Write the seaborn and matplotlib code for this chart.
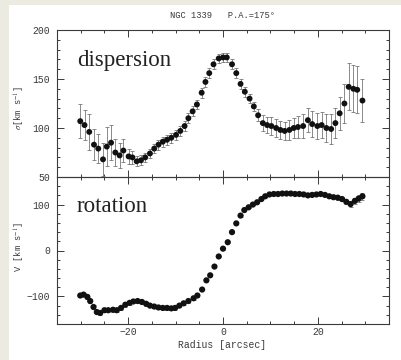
import matplotlib
matplotlib.use("Agg")
import matplotlib.pyplot as plt
from matplotlib.patches import Rectangle
from matplotlib.ticker import MultipleLocator
import pandas as pd
import seaborn as sns

# dispersion profile (arcsec, km/s)
disp_radius = [-30.1, -29.2, -28.2, -27.2, -26.3, -25.3, -24.5, -23.6, -22.7, -21.8,
               -21.0, -19.9, -19.1, -18.2, -17.3, -16.4, -15.4, -14.5, -13.6, -12.7,
               -11.8, -10.9, -9.9, -9.0, -8.1, -7.3, -6.4, -5.5, -4.5, -3.7,
               -2.9, -2.0, -0.9, 0.0, 0.8, 1.9, 2.8, 3.7, 4.6, 5.6,
               6.5, 7.4, 8.4, 9.3, 10.2, 11.2, 12.1, 13.0, 14.0, 14.9,
               15.8, 16.9, 17.9, 18.8, 19.9, 20.8, 21.8, 22.8, 23.7, 24.6,
               25.6, 26.5, 27.5, 28.3, 29.4]
disp_sigma = [107, 103, 96, 83, 79, 68, 81, 85, 75, 72,
              77, 71, 70, 66, 67, 70, 74, 79, 83, 86,
              88, 90, 93, 97, 102, 110, 117, 124, 136, 147,
              156, 165, 171, 172, 172, 165, 156, 145, 137, 130,
              122, 113, 105, 103, 102, 100, 98, 97, 98, 100,
              101, 102, 108, 104, 102, 103, 100, 99, 105, 115,
              125, 142, 140, 139, 128]
disp_err = [17, 15, 18, 16, 15, 17, 20, 18, 14, 13,
            12, 8, 7, 5, 5, 5, 5, 5, 5, 5,
            5, 5, 5, 5, 5, 5, 5, 5, 5, 5,
            5, 5, 5, 5, 5, 5, 5, 5, 5, 5,
            5, 6, 8, 8, 9, 9, 9, 9, 10, 10,
            11, 12, 12, 13, 13, 13, 14, 15, 15, 17,
            20, 24, 24, 24, 22]

# rotation curve (arcsec, km/s)
rot_radius = [-30.1, -29.4, -28.6, -28.0, -27.3, -26.6, -25.9, -25.0, -24.2, -23.2,
              -22.4, -21.5, -20.6, -19.7, -18.9, -18.0, -17.1, -16.2, -15.4, -14.5,
              -13.6, -12.7, -11.8, -10.9, -10.1, -9.2, -8.3, -7.3, -6.2, -5.4,
              -4.4, -3.5, -2.7, -1.8, -0.9, 0.0, 1.0, 1.9, 2.8, 3.7,
              4.5, 5.4, 6.3, 7.2, 8.1, 8.9, 9.8, 10.7, 11.6, 12.5,
              13.4, 14.3, 15.2, 16.1, 17.0, 17.9, 18.8, 19.7, 20.6, 21.5,
              22.4, 23.3, 24.2, 25.1, 26.0, 26.9, 27.8, 28.6, 29.4]
rot_vel = [-98, -96, -101, -110, -123, -134, -136, -130, -130, -129,
           -130, -125, -118, -114, -111, -110, -112, -116, -120, -122,
           -124, -125, -125, -126, -125, -120, -115, -110, -104, -98,
           -85, -65, -54, -35, -13, 4, 18, 40, 59, 76,
           88, 94, 100, 105, 112, 118, 122, 123, 123, 124,
           124, 124, 123, 123, 122, 120, 121, 122, 123, 121,
           118, 116, 115, 112, 106, 101, 108, 113, 118]
rot_err = [4] * 30 + [2] * 32 + [4, 4, 5, 6, 6, 7, 7]

disp = pd.DataFrame({"radius": disp_radius, "sigma": disp_sigma, "err": disp_err})
rot = pd.DataFrame({"radius": rot_radius, "vel": rot_vel, "err": rot_err})

sns.set_style("ticks")
plt.rcParams["font.family"] = ["Liberation Mono", "DejaVu Sans Mono"]
plt.rcParams["mathtext.fontset"] = "stix"
ink = "#3a3a3a"
serif = ["Liberation Serif", "DejaVu Serif"]

fig = plt.figure(figsize=(4.01, 3.60), dpi=100)
fig.patch.set_facecolor("#ecebe1")
fig.patches.append(Rectangle((9 / 401, 0), 1, 1 - 5 / 360, transform=fig.transFigure,
                             facecolor="white", edgecolor="none", zorder=-10))

left, width = 57 / 401, 332 / 401
ax1 = fig.add_axes([left, 1 - 177 / 360, width, 147 / 360])
ax2 = fig.add_axes([left, 1 - 324 / 360, width, 147 / 360], sharex=ax1)

# dispersion panel
ax1.errorbar(disp["radius"], disp["sigma"], yerr=disp["err"], fmt="none",
             ecolor="#777777", elinewidth=0.6, capsize=1.6, capthick=0.6, zorder=2)
sns.scatterplot(data=disp, x="radius", y="sigma", ax=ax1, color="#111111",
                s=18, edgecolor="none", zorder=3, legend=False)
ax1.set_ylim(50, 200)
ax1.yaxis.set_major_locator(MultipleLocator(50))
ax1.yaxis.set_minor_locator(MultipleLocator(10))
ax1.text(0.06, 0.755, "dispersion", transform=ax1.transAxes, fontsize=16.5,
         color="#222222", va="baseline", family=serif)

# rotation panel
ax2.errorbar(rot["radius"], rot["vel"], yerr=rot["err"], fmt="none",
             ecolor="#777777", elinewidth=0.6, capsize=1.4, capthick=0.6, zorder=2)
sns.scatterplot(data=rot, x="radius", y="vel", ax=ax2, color="#111111",
                s=20, edgecolor="none", zorder=3, legend=False)
ax2.set_ylim(-160, 160)
ax2.yaxis.set_major_locator(MultipleLocator(100))
ax2.yaxis.set_minor_locator(MultipleLocator(20))
ax2.text(0.06, 0.762, "rotation", transform=ax2.transAxes, fontsize=16.5,
         color="#222222", va="baseline", family=serif)

ax2.set_xlim(-35, 35)
ax2.xaxis.set_major_locator(MultipleLocator(20))
ax2.xaxis.set_minor_locator(MultipleLocator(5))

for ax in (ax1, ax2):
    ax.set_xlabel("")
    ax.set_ylabel("")
    ax.set_facecolor("none")
    for sp in ax.spines.values():
        sp.set_visible(True)
        sp.set_color(ink)
        sp.set_linewidth(0.8)
    ax.tick_params(which="both", direction="in", top=True, right=True,
                   color=ink, labelcolor=ink, labelsize=7, width=0.7)
    ax.tick_params(which="major", length=5, pad=5)
    ax.tick_params(which="minor", length=2.5)
ax1.tick_params(axis="x", labelbottom=False)
ax2.tick_params(axis="x", which="major", pad=2.5)

fig.text(222 / 401, 1 - 16 / 360, "NGC 1339   P.A.=175°", ha="center", va="center",
         fontsize=6.3, color=ink)
fig.text(20 / 401, 1 - 108 / 360, r"$\sigma$[km s$^{-1}$]", rotation=90,
         ha="center", va="center", fontsize=6.3, color=ink)
fig.text(20 / 401, 1 - 247 / 360, r"V [km s$^{-1}$]", rotation=90,
         ha="center", va="center", fontsize=6.3, color=ink)
fig.text(222 / 401, 1 - 345 / 360, "Radius [arcsec]", ha="center", va="center",
         fontsize=7, color=ink)

fig.savefig("out.png", dpi=100, facecolor=fig.get_facecolor())
